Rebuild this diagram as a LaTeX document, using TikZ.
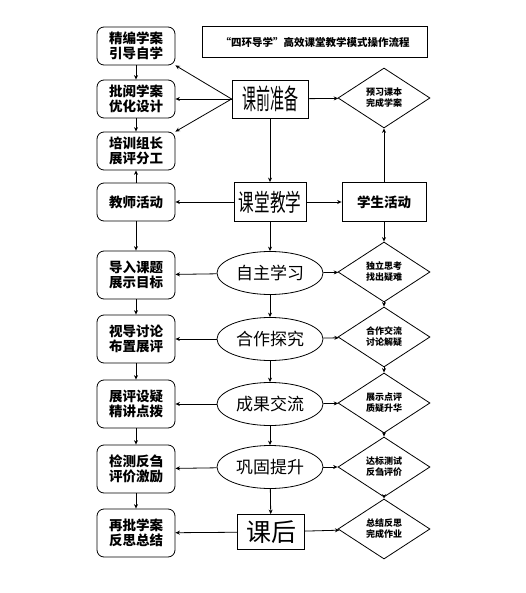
\documentclass[tikz,border=0pt]{standalone}
\usepackage{fontspec}
\setmainfont{Noto Sans CJK SC}
\usetikzlibrary{positioning,arrows.meta,shapes.geometric}

\begin{document}
\begin{tikzpicture}[x=1pt,y=-1pt,font=\fontsize{13.5}{15.5}\selectfont,
   every node/.style={draw,line width=0.8pt,align=center,inner sep=1pt},
   lbox/.style={rounded corners=7pt,minimum width=78pt,minimum height=38pt,font=\bfseries\fontsize{13.5}{15.5}\selectfont},
   tall/.style={minimum height=48pt},
   mbox/.style={minimum width=74pt,minimum height=38pt},
   stage/.style={ellipse,minimum width=106pt,minimum height=43pt,font=\fontsize{17}{19}\selectfont},
   choice/.style={diamond,minimum width=92pt,minimum height=60pt,inner sep=0pt,font=\bfseries\fontsize{9}{11}\selectfont},
   link/.style={line width=0.8pt,-{Stealth[length=4.5pt,width=4pt]}}]
  \useasboundingbox (0,0) rectangle (525,593);
  % teacher side
  \node[lbox] (b1) at (136,46) {精编学案\\引导自学};
  \node[lbox] (b2) at (136,99) {批阅学案\\优化设计};
  \node[lbox] (b3) at (136,151) {培训组长\\展评分工};
  \node[lbox] (teach) at (136,202) {教师活动};
  \node[lbox,tall] (b5) at (136,275) {导入课题\\展示目标};
  \node[lbox,tall] (b6) at (136,339) {视导讨论\\布置展评};
  \node[lbox,tall] (b7) at (136,404) {展评设疑\\精讲点拨};
  \node[lbox,tall] (b8) at (136,469) {检测反刍\\评价激励};
  \node[lbox,tall] (b9) at (136,533) {再批学案\\反思总结};
  % middle
  \node[minimum width=225pt,minimum height=31pt,font=\bfseries\fontsize{10.5}{12}\selectfont]
    (title) at (315,42) {“四环导学”高效课堂教学模式操作流程};
  \node[mbox,minimum width=76pt] (pre) at (270,99) {\scalebox{0.5}[1]{\fontsize{28}{30}\selectfont 课前准备}};
  \node[mbox,minimum width=72pt,minimum height=39pt] (class) at (270,202) {\scalebox{0.65}[1]{\fontsize{24}{26}\selectfont 课堂教学}};
  \node[stage] (s1) at (270,273) {自主学习};
  \node[stage] (s2) at (270,339) {合作探究};
  \node[stage] (s3) at (270,404) {成果交流};
  \node[stage] (s4) at (270,467) {巩固提升};
  \node[minimum width=67pt,minimum height=35pt,font=\fontsize{25}{27}\selectfont] (after) at (271,532) {课后};
  % student side
  \node[minimum width=84pt,minimum height=39pt,font=\bfseries\fontsize{13.5}{15.5}\selectfont] (stu) at (384,202) {学生活动};
  \node[choice] (d0) at (384,98) {预习课本\\完成学案};
  \node[choice] (d1) at (384,272) {独立思考\\找出疑难};
  \node[choice] (d2) at (384,337) {合作交流\\讨论解疑};
  \node[choice] (d3) at (384,403) {展示点评\\质疑升华};
  \node[choice] (d4) at (384,467) {达标测试\\反刍评价};
  \node[choice] (d5) at (384,529) {总结反思\\完成作业};
  % connectors
  \draw[link] (pre.west) -- (b1.south east);
  \draw[link] (pre) -- (b2);
  \draw[link] (pre.west) -- (b3.north east);
  \draw[link] (pre) -- (d0);
  \draw[link] (pre) -- (class);
  \draw[link] (b1) -- (b2);
  \draw[link] (b2) -- (b3);
  \draw[link] (teach) -- (b3);
  \draw[link] (class) -- (teach);
  \draw[link] (class) -- (stu);
  \draw[link] (stu) -- (d0);
  \draw[link] (teach) -- (b5);
  \draw[link] (stu) -- (d1);
  \draw[link] (class) -- (s1);
  \draw[link] (s1) -- (b5);  \draw[link] (s1) -- (d1);
  \draw[link] (s2) -- (b6);  \draw[link] (s2) -- (d2);
  \draw[link] (s3) -- (b7);  \draw[link] (s3) -- (d3);
  \draw[link] (s4) -- (b8);  \draw[link] (s4) -- (d4);
  \draw[link] (after) -- (b9);  \draw[link] (after) -- (d5);
  \draw[link] (s1) -- (s2);  \draw[link] (s2) -- (s3);
  \draw[link] (s3) -- (s4);  \draw[link] (s4) -- (after);
  \draw[link] (b5) -- (b6);  \draw[link] (b6) -- (b7);
  \draw[link] (b7) -- (b8);  \draw[link] (b8) -- (b9);
  \draw[link] (d1) -- (d2);  \draw[link] (d2) -- (d3);
  \draw[link] (d3) -- (d4);  \draw[link] (d4) -- (d5);
\end{tikzpicture}
\end{document}
